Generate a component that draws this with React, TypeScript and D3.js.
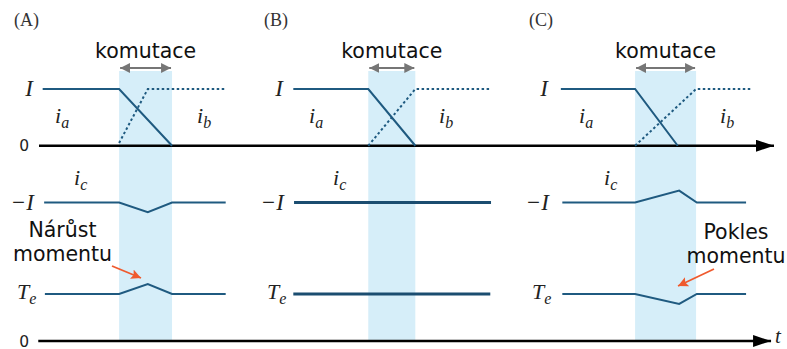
import React from 'react';
import * as d3 from 'd3';

type Pt = [number, number];

// Panel titles and the commutation interval of each panel (time units)
const panelNames = ['(A)', '(B)', '(C)'];
const commutation: Pt[] = [[10.9, 18.1], [44.8, 51.2], [81.1, 89.4]];

// Phase currents (per unit of I) and torque (per unit of Te), as [time, value]
const iaA: Pt[] = [[0.5, 1], [10.9, 1], [18.1, 0]];
const ibA: Pt[] = [[10.9, 0.05], [14.8, 1], [25.4, 1]];
const icA: Pt[] = [[0.7, -1], [10.9, -1], [14.8, -1.17], [18.1, -1], [25.4, -1]];
const teA: Pt[] = [[0.8, 1], [10.9, 1], [14.8, 1.21], [18.1, 1], [25.4, 1]];

const iaB: Pt[] = [[34.6, 1], [44.8, 1], [51.2, 0]];
const ibB: Pt[] = [[44.8, 0], [51.2, 1], [61.5, 1]];
const icB: Pt[] = [[34.7, -1], [61.5, -1]];
const teB: Pt[] = [[34.6, 1], [61.4, 1]];

const iaC: Pt[] = [[71.0, 1], [81.1, 1], [86.9, 0]];
const ibC: Pt[] = [[81.1, 0], [89.4, 1], [97.0, 1]];
const icC: Pt[] = [[71.2, -1], [81.1, -1], [87.1, -0.79], [89.5, -1], [96.2, -1]];
const teC: Pt[] = [[71.2, 1], [81.1, 1], [87.1, 0.79], [89.5, 1], [96.2, 1]];

const iaSeries = [iaA, iaB, iaC];
const ibSeries = [ibA, ibB, ibC];
const icSeries = [icA, icB, icC];
const teSeries = [teA, teB, teC];

// Annotations
const noteRise = ['Nárůst', 'momentu'];
const noteDrop = ['Pokles', 'momentu'];
const commLabel = 'komutace';

const W = 787;
const H = 349;

const SANS = '"DejaVu Sans", sans-serif';
const SERIF = '"Liberation Serif", "Times New Roman", serif';
const LINE = '#1f5a80';
const BAND = '#d6eef9';
const NOTE = '#ef5a2e';

// shared time axis and the two value axes
const x = d3.scaleLinear().domain([0, 100]).range([39, 774]);
const yI = d3.scaleLinear().domain([-1, 1]).range([202.5, 89]);
const yT = d3.scaleLinear().domain([0, 1]).range([341, 294]);

const lineI = d3.line<Pt>().x((d) => x(d[0])).y((d) => yI(d[1]));
const lineT = d3.line<Pt>().x((d) => x(d[0])).y((d) => yT(d[1]));

// horizontal offset of each panel's labels
const panelShift = [0, 250, 515];
const iaLabelX = [55, 309, 579];
const ibLabelX = [197, 439, 720];
const icLabelX = [74, 333, 604];

function Sub({ x: px, y: py, base, sub, size = 22, subSize = 16, dy = 5 }: any) {
  return (
    <text x={px} y={py} fontFamily={SERIF} fontStyle="italic" fontSize={size} fill="#222">
      {base}
      <tspan fontSize={subSize} dy={dy}>{sub}</tspan>
    </text>
  );
}

export default function App() {
  return (
    <svg
      width={W}
      height={H}
      viewBox={`0 0 ${W} ${H}`}
      style={{ position: 'absolute', left: 0, top: 0, background: '#fff' }}
    >
      <defs>
        <marker id="axisHead" viewBox="0 0 18 12" refX="18" refY="6" markerWidth="18" markerHeight="12" markerUnits="userSpaceOnUse" orient="auto">
          <path d="M0,0 L18,6 L0,12 Z" fill="#000" />
        </marker>
        <marker id="grayHead" viewBox="0 0 10 10" refX="10" refY="5" markerWidth="10" markerHeight="10" markerUnits="userSpaceOnUse" orient="auto-start-reverse">
          <path d="M0,0 L10,5 L0,10 Z" fill="#767676" />
        </marker>
        <marker id="noteHead" viewBox="0 0 10 10" refX="10" refY="5" markerWidth="10" markerHeight="10" markerUnits="userSpaceOnUse" orient="auto">
          <path d="M0,0 L10,5 L0,10 L2,5 Z" fill={NOTE} />
        </marker>
      </defs>

      {/* commutation bands */}
      {commutation.map(([a, b], i) => (
        <g key={`band${i}`}>
          <rect x={x(a)} y={71} width={x(b) - x(a)} height={270} fill={BAND} />
          <line x1={x(a) + 1} x2={x(b) - 1} y1={68} y2={68} stroke="#767676" strokeWidth={2}
            markerStart="url(#grayHead)" markerEnd="url(#grayHead)" />
          <text x={(x(a) + x(b)) / 2} y={58} textAnchor="middle" fontFamily={SANS} fontSize={20.5} fill="#111">
            {commLabel}
          </text>
        </g>
      ))}

      {/* time axes */}
      <line x1={x(0)} x2={x(100)} y1={yI(0)} y2={yI(0)} stroke="#000" strokeWidth={2.5} markerEnd="url(#axisHead)" />
      <line x1={x(-0.1)} x2={x(99.6)} y1={yT(0)} y2={yT(0)} stroke="#000" strokeWidth={2.5} markerEnd="url(#axisHead)" />
      <text x={29} y={yI(0) + 5.5} textAnchor="end" fontFamily={SANS} fontSize={15.5} fill="#222">0</text>
      <text x={29} y={yT(0) + 5.5} textAnchor="end" fontFamily={SANS} fontSize={15.5} fill="#222">0</text>
      <text x={775} y={343} fontFamily={SERIF} fontStyle="italic" fontSize={21} fill="#222">t</text>

      {panelNames.map((name, i) => {
        const s = panelShift[i];
        const thick = i === 1;
        return (
          <g key={name}>
            <text x={s + 14} y={26} fontFamily={SERIF} fontSize={18} fill="#333">{name}</text>

            {/* level labels */}
            <text x={s + 33} y={yI(1) + 7} textAnchor="end" fontFamily={SERIF} fontStyle="italic" fontSize={23} fill="#222">I</text>
            <text x={s + 34} y={yI(-1) + 7} textAnchor="end" fontFamily={SERIF} fontStyle="italic" fontSize={23} fill="#222">−I</text>
            <Sub x={s + 17} y={yT(1) + 5} base="T" sub="e" size={22} subSize={16} dy={5} />

            {/* current labels */}
            <Sub x={iaLabelX[i]} y={123} base="i" sub="a" />
            <Sub x={ibLabelX[i]} y={123} base="i" sub="b" />
            <Sub x={icLabelX[i]} y={185} base="i" sub="c" />

            {/* signals */}
            <path d={lineI(iaSeries[i]) ?? ''} fill="none" stroke={LINE} strokeWidth={2} />
            <path d={lineI(ibSeries[i]) ?? ''} fill="none" stroke={LINE} strokeWidth={2} strokeDasharray="2.5 2.5" />
            <path d={lineI(icSeries[i]) ?? ''} fill="none" stroke={thick ? '#1b4d70' : LINE} strokeWidth={thick ? 3 : 2} />
            <path d={lineT(teSeries[i]) ?? ''} fill="none" stroke={thick ? '#1b4d70' : LINE} strokeWidth={thick ? 3 : 2} />
          </g>
        );
      })}

      {/* torque annotations */}
      <text textAnchor="middle" fontFamily={SANS} fontSize={20.5} fill="#111">
        <tspan x={62.5} y={237}>{noteRise[0]}</tspan>
        <tspan x={62.5} y={261}>{noteRise[1]}</tspan>
      </text>
      <line x1={112} y1={266} x2={141} y2={278} stroke={NOTE} strokeWidth={1.8} markerEnd="url(#noteHead)" />

      <text textAnchor="middle" fontFamily={SANS} fontSize={20.5} fill="#111">
        <tspan x={736} y={239}>{noteDrop[0]}</tspan>
        <tspan x={736} y={263}>{noteDrop[1]}</tspan>
      </text>
      <line x1={714} y1={269} x2={678} y2={286} stroke={NOTE} strokeWidth={1.8} markerEnd="url(#noteHead)" />
    </svg>
  );
}
